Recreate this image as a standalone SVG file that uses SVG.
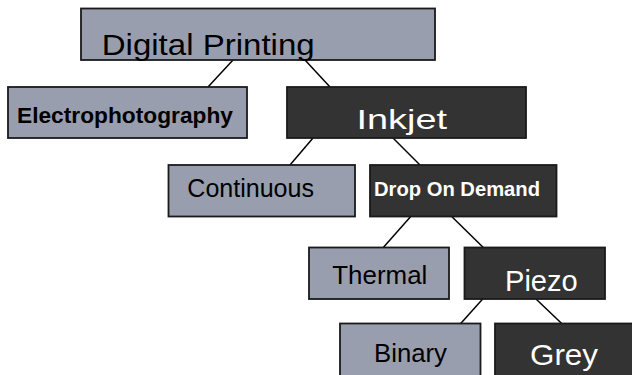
<svg xmlns="http://www.w3.org/2000/svg" width="632" height="375" viewBox="0 0 632 375">
<style>
.light{fill:#999eae;stroke:#1a1a1a;stroke-width:1.8}
.dark{fill:#333333;stroke:#1a1a1a;stroke-width:1.8}
.t{font-family:"Liberation Sans",Arial,sans-serif}
.tl{fill:#000}
.td{fill:#fff}
.b{font-weight:bold}
.c{stroke:#000;stroke-width:1.5;fill:none}
</style>
<rect width="632" height="375" fill="#fff"/>
<g id="connectors">
<line class="c" x1="233" y1="60" x2="208" y2="87"/>
<line class="c" x1="305" y1="60" x2="330" y2="87"/>
<line class="c" x1="313" y1="138" x2="290" y2="165"/>
<line class="c" x1="393" y1="138" x2="420" y2="165"/>
<line class="c" x1="410.7" y1="216.5" x2="383.3" y2="247.5"/>
<line class="c" x1="451.7" y1="216.5" x2="483.3" y2="247.5"/>
<line class="c" x1="482.7" y1="299" x2="460.7" y2="323.5"/>
<line class="c" x1="536" y1="299" x2="561.7" y2="323.5"/>
</g>
<g id="digital-printing">
<rect class="light" x="81" y="8.5" width="354" height="51.5"/>
<text class="t tl" x="101.7" y="55" font-size="29" textLength="213" lengthAdjust="spacingAndGlyphs">Digital Printing</text>
</g>
<g id="electrophotography">
<rect class="light" x="8" y="87" width="239" height="51"/>
<text class="t tl b" x="17" y="123" font-size="22" textLength="216" lengthAdjust="spacingAndGlyphs">Electrophotography</text>
</g>
<g id="inkjet">
<rect class="dark" x="287" y="87" width="239" height="51"/>
<text class="t td" x="356.5" y="129" font-size="28" textLength="90.5" lengthAdjust="spacingAndGlyphs">Inkjet</text>
</g>
<g id="continuous">
<rect class="light" x="168.5" y="165" width="186.5" height="51.5"/>
<text class="t tl" x="187.3" y="196.7" font-size="25" textLength="126.7" lengthAdjust="spacingAndGlyphs">Continuous</text>
</g>
<g id="drop-on-demand">
<rect class="dark" x="370" y="165" width="186.5" height="51.5"/>
<text class="t td b" x="374" y="196" font-size="20" textLength="166" lengthAdjust="spacingAndGlyphs">Drop On Demand</text>
</g>
<g id="thermal">
<rect class="light" x="309" y="247.5" width="140" height="51.5"/>
<text class="t tl" x="332.3" y="284" font-size="26" textLength="95" lengthAdjust="spacingAndGlyphs">Thermal</text>
</g>
<g id="piezo">
<rect class="dark" x="464.5" y="247.5" width="140.5" height="51.5"/>
<text class="t td" x="505" y="290.7" font-size="29" textLength="72.7" lengthAdjust="spacingAndGlyphs">Piezo</text>
</g>
<g id="binary">
<rect class="light" x="340" y="323.5" width="140.5" height="60"/>
<text class="t tl" x="374" y="361.7" font-size="26" textLength="73" lengthAdjust="spacingAndGlyphs">Binary</text>
</g>
<g id="grey">
<rect class="dark" x="495" y="323.5" width="145" height="60"/>
<text class="t td" x="530" y="365" font-size="30" textLength="68" lengthAdjust="spacingAndGlyphs">Grey</text>
</g>
</svg>
